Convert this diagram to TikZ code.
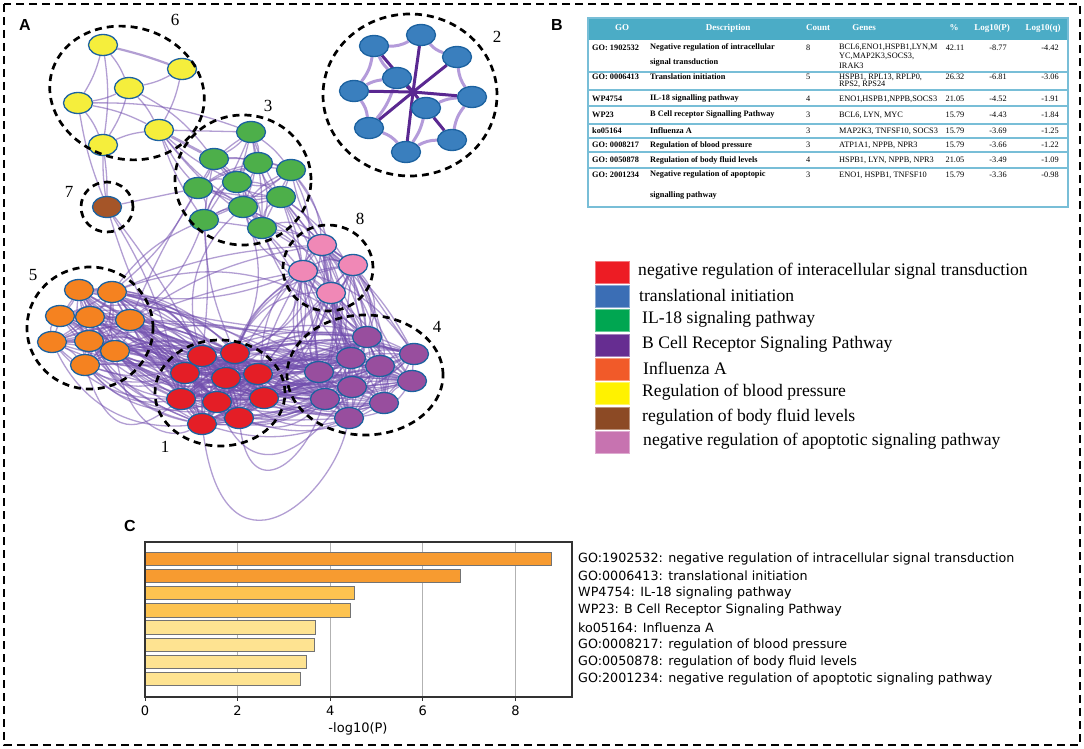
\documentclass[tikz,border=0pt]{standalone}
\usepackage{fontspec}
\setmainfont{Liberation Serif}
\newfontfamily\dejavu{DejaVu Sans}
\newfontfamily\arialf{Liberation Sans}
\usetikzlibrary{shapes.geometric}
\pgfdeclarelayer{bg}
\pgfdeclarelayer{edges}
\pgfsetlayers{bg,edges,main}
\definecolor{nbord}{RGB}{28,98,160}
\definecolor{edgec}{RGB}{115,80,175}
\definecolor{spoke}{RGB}{90,40,145}
\definecolor{ringc}{RGB}{180,155,218}
\definecolor{nyel}{RGB}{245,238,60}
\definecolor{nblue}{RGB}{58,127,190}
\definecolor{ngreen}{RGB}{77,175,74}
\definecolor{npink}{RGB}{240,136,182}
\definecolor{norange}{RGB}{245,130,32}
\definecolor{nred}{RGB}{228,30,38}
\definecolor{npurple}{RGB}{152,78,158}
\definecolor{nbrown}{RGB}{165,85,40}
\definecolor{lred}{RGB}{237,28,36}
\definecolor{lblue}{RGB}{59,110,181}
\definecolor{lgreen}{RGB}{0,166,81}
\definecolor{lpurple}{RGB}{102,45,145}
\definecolor{lorange}{RGB}{241,90,41}
\definecolor{lyellow}{RGB}{255,242,0}
\definecolor{lbrown}{RGB}{140,74,37}
\definecolor{lpink}{RGB}{199,115,176}
\definecolor{thead}{RGB}{75,172,198}
\definecolor{tline}{RGB}{120,190,215}
\definecolor{bar1}{RGB}{247,155,48}
\definecolor{bar2}{RGB}{253,195,80}
\definecolor{bar3}{RGB}{254,227,145}
\newcommand\setfs[2]{\fontsize{#1}{#2}\selectfont}
\newcommand\mylinkin[2]{%
 \foreach \i in {1,...,#2}{\foreach \j in {\i,...,#2}{\ifnum\i<\j
   \pgfmathsetmacro\bb{rand*25}\draw[ed] (#1\i) to[bend left=\bb] (#1\j);\fi}}}
\newcommand\mylinkab[4]{%
 \foreach \i in {#2}{\foreach \j in {#4}{%
   \pgfmathsetmacro\bb{rand*35}\draw[ed] (#1\i) to[bend left=\bb] (#3\j);}}}
\begin{document}
\begin{tikzpicture}[x=1pt,y=-1pt,
  nd/.style={ellipse,draw=nbord,line width=1.3pt,minimum width=29pt,minimum height=21pt,inner sep=0pt},
  yel/.style={nd,fill=nyel}, blu/.style={nd,fill=nblue}, grn/.style={nd,fill=ngreen},
  pnk/.style={nd,fill=npink}, org/.style={nd,fill=norange}, rd/.style={nd,fill=nred},
  prp/.style={nd,fill=npurple}, brn/.style={nd,fill=nbrown},
  clus/.style={ellipse,draw=black,line width=2.7pt,dash pattern=on 7pt off 5pt,inner sep=0pt},
  clab/.style={font=\setfs{17}{17}},
  ed/.style={draw=edgec,line width=1.3pt,opacity=0.55},
  sp/.style={draw=spoke,line width=3pt},
  rg/.style={draw=ringc,line width=3pt},
  panel/.style={font=\arialf\bfseries\setfs{16}{16}},
  th/.style={font=\bfseries\setfs{9}{10},text=white,inner sep=0pt},
  tb/.style={font=\bfseries\setfs{8.3}{9},anchor=west,inner sep=0pt},
  tr/.style={font=\setfs{8.3}{9},anchor=west,inner sep=0pt},
  tc/.style={font=\setfs{8.3}{9},inner sep=0pt},
  sw/.style={minimum width=34pt,minimum height=22pt,inner sep=0pt,line width=1pt},
  lg/.style={font=\setfs{17.6}{17.6},anchor=west,inner sep=0pt},
  bl/.style={font=\dejavu\setfs{12.7}{13},anchor=west,inner sep=0pt},
  tk/.style={font=\dejavu\setfs{13}{13},inner sep=0pt}
]
\useasboundingbox (0,0) rectangle (1084,749);
\begin{pgfonlayer}{bg}
\fill[white] (0,0) rectangle (1084,749);
\end{pgfonlayer}
\draw[line width=2.8pt,dash pattern=on 8pt off 5pt] (4,4) rectangle (1080,745);

\node[panel] (pA) at (25,25) {A};
\node[panel] (pB) at (557,25) {B};
\node[panel] (pC) at (130,526) {C};

% ---------- network nodes ----------
\node[yel] (y1) at (103,45) {};
\node[yel] (y2) at (182,69) {};
\node[yel] (y3) at (129,88) {};
\node[yel] (y4) at (78,103) {};
\node[yel] (y5) at (159,130) {};
\node[yel] (y6) at (103,145) {};
\node[brn] (b1) at (107,207) {};
\node[grn] (g1) at (251,132) {};
\node[grn] (g2) at (214,159) {};
\node[grn] (g3) at (258,163) {};
\node[grn] (g4) at (291,170) {};
\node[grn] (g5) at (237,182) {};
\node[grn] (g6) at (198,188) {};
\node[grn] (g7) at (281,197) {};
\node[grn] (g8) at (243,207) {};
\node[grn] (g9) at (204,220) {};
\node[grn] (g10) at (262,228) {};
\node[blu] (bl1) at (374,46) {};
\node[blu] (bl2) at (421,35) {};
\node[blu] (bl3) at (457,57) {};
\node[blu] (bl4) at (397,78) {};
\node[blu] (bl5) at (354,91) {};
\node[blu] (bl6) at (472,97) {};
\node[blu] (bl7) at (426,108) {};
\node[blu] (bl8) at (369,128) {};
\node[blu] (bl9) at (452,140) {};
\node[blu] (bl10) at (406,152) {};
\coordinate (hub) at (413,92);
\node[pnk] (p1) at (322,245) {};
\node[pnk] (p2) at (353,265) {};
\node[pnk] (p3) at (303,271) {};
\node[pnk] (p4) at (331,293) {};
\node[prp] (u1) at (367,337) {};
\node[prp] (u2) at (351,358) {};
\node[prp] (u3) at (414,354) {};
\node[prp] (u4) at (380,366) {};
\node[prp] (u5) at (319,372) {};
\node[prp] (u6) at (412,381) {};
\node[prp] (u7) at (352,387) {};
\node[prp] (u8) at (325,399) {};
\node[prp] (u9) at (384,403) {};
\node[prp] (u10) at (349,418) {};
\node[org] (o1) at (79,290) {};
\node[org] (o2) at (112,292) {};
\node[org] (o3) at (60,316) {};
\node[org] (o4) at (90,317) {};
\node[org] (o5) at (130,320) {};
\node[org] (o6) at (52,342) {};
\node[org] (o7) at (89,341) {};
\node[org] (o8) at (115,351) {};
\node[org] (o9) at (85,365) {};
\node[rd] (r1) at (202,356) {};
\node[rd] (r2) at (235,353) {};
\node[rd] (r3) at (185,373) {};
\node[rd] (r4) at (226,378) {};
\node[rd] (r5) at (258,374) {};
\node[rd] (r6) at (181,399) {};
\node[rd] (r7) at (217,402) {};
\node[rd] (r8) at (264,398) {};
\node[rd] (r9) at (202,424) {};
\node[rd] (r10) at (239,418) {};

% ---------- edges ----------
\begin{pgfonlayer}{edges}
\pgfmathsetseed{4242}
% yellow
\foreach \a/\b in {y1/y3,y1/y4,y2/y3,y2/y5,y3/y4,y3/y5,y3/y6,y4/y5,y4/y6,y6/y5,y1/y6}
  {\draw[ed] (\a) to[bend left=8] (\b);}
\draw[ed,line width=2.2pt] (y1) to[bend left=3] (y2);
\draw[ed] (y4) to[bend left=10] (g1);
\draw[ed] (y3) to[bend left=12] (g2);
\draw[ed] (y5) -- (g1);
\draw[ed,line width=2.8pt] (y5) -- (g2);
\foreach \t in {6,9,5,8,10} {\draw[ed] (y5) to[bend right=8] (g\t);}
\draw[ed] (y6) to[bend left=4] (b1);
\draw[ed] (y6) to[bend right=4] (b1);
\draw[ed] (y4) to[bend right=6] (b1);
\draw[ed] (b1) -- (g6);
\draw[ed] (b1) to[bend left=5] (r1);
\draw[ed] (b1) to[bend right=8] (r3);
\draw[ed] (b1) to[bend left=10] (r6);
% blue
\foreach \a/\b in {bl1/bl2,bl2/bl3,bl3/bl6,bl6/bl9,bl9/bl10,bl10/bl8,bl8/bl5,bl5/bl1}
  {\draw[rg] (\a) to[bend right=14] (\b);}
\foreach \a/\b in {bl5/bl4,bl4/bl1,bl4/bl8,bl7/bl10,bl7/bl6}
  {\draw[rg] (\a) to[bend left=10] (\b);}
\foreach \t in {1,2,3,5,6,8,10,4,7} {\draw[sp] (hub) -- (bl\t);}
\draw[sp] (bl7) -- (bl9);
% intra clusters
\mylinkin{g}{10}
\mylinkin{p}{4}
\mylinkin{o}{9}
\mylinkin{u}{10}
\mylinkin{r}{10}
\mylinkin{r}{10}
% inter clusters
\mylinkab{r}{1,...,10}{u}{1,...,10}
\mylinkab{r}{1,...,10}{o}{1,...,9}
\mylinkab{o}{1,2,5,8}{u}{1,2,5,8}
\mylinkab{p}{1,...,4}{u}{1,...,10}
\mylinkab{p}{1,...,4}{r}{2,4,5,8}
\mylinkab{g}{4,7,8,10}{p}{1,...,4}
\mylinkab{g}{7,10}{u}{1,2,5}
\mylinkab{g}{8,9}{r}{1,2}
\mylinkab{o}{2,5}{p}{1,3}
\mylinkab{o}{2,5}{g}{9,6}
% loops
\draw[ed] (r9) .. controls (225,590) and (330,500) .. (u10);
\draw[ed] (r10) .. controls (250,500) and (300,470) .. (u8);
\draw[ed] (r7) .. controls (250,480) and (300,460) .. (u7);
\draw[ed] (o9) .. controls (110,440) and (140,430) .. (r6);
\draw[ed] (o8) .. controls (130,430) and (170,440) .. (r9);
\end{pgfonlayer}

% ---------- cluster outlines ----------
\node[clus,minimum width=156pt,minimum height=132pt,rotate=-15] (c6) at (127,93) {};
\node[clus,minimum width=52pt,minimum height=50pt] (c7) at (107,207) {};
\node[clus,minimum width=136pt,minimum height=130pt] (c3) at (243,180) {};
\node[clus,minimum width=174pt,minimum height=162pt] (c2) at (410,95) {};
\node[clus,minimum width=90pt,minimum height=86pt] (c8) at (328,268) {};
\node[clus,minimum width=156pt,minimum height=120pt] (c4) at (365,375) {};
\node[clus,minimum width=126pt,minimum height=122pt] (c5) at (90,328) {};
\node[clus,minimum width=130pt,minimum height=106pt] (c1) at (220,393) {};
\node[clab] (l6) at (175,20) {6};
\node[clab] (l7) at (69,192) {7};
\node[clab] (l3) at (268,106) {3};
\node[clab] (l2) at (497,37) {2};
\node[clab] (l8) at (360,219) {8};
\node[clab] (l4) at (437,327) {4};
\node[clab] (l5) at (33,275) {5};
\node[clab] (l1) at (165,447) {1};

% ---------- table B ----------
\fill[thead] (588,18) rectangle (1068,40);
\foreach \yy in {72,90,106,124,138,152,168} {\draw[tline,line width=1.2pt] (588,\yy) -- (1068,\yy);}
\draw[tline,line width=1.8pt] (588,18) rectangle (1068,207);
\node[th] (h1) at (622,28) {GO};
\node[th] (h2) at (728,28) {Description};
\node[th] (h3) at (818,28) {Count};
\node[th] (h4) at (864,28) {Genes};
\node[th] (h5) at (954,28) {\%};
\node[th] (h6) at (992,28) {Log10(P)};
\node[th] (h7) at (1043,28) {Log10(q)};
% rows
\node[tb] (a1) at (592,48) {GO: 1902532};
\node[tb,align=left,font=\bfseries\setfs{8.3}{15},anchor=north west] (d1) at (650,43) {Negative regulation of intracellular\\signal transduction};
\node[tr] (n1) at (806,48) {8};
\node[tr,align=left,font=\setfs{8.3}{9.5},anchor=north west] (e1) at (839,43.5) {BCL6,ENO1,HSPB1,LYN,M\\YC,MAP2K3,SOCS3,\\IRAK3};
\node[tc] (f1) at (955,48) {42.11};
\node[tc] (q1) at (998,48) {-8.77};
\node[tc] (s1) at (1050,48) {-4.42};
\node[tb] (a2) at (592,77) {GO: 0006413};
\node[tb] (d2) at (650,77) {Translation initiation};
\node[tr] (n2) at (806,77) {5};
\node[tr,align=left,font=\setfs{8.3}{7.5},anchor=north west] (e2) at (839,73.5) {HSPB1, RPL13, RPLP0,\\RPS2, RPS24};
\node[tc] (f2) at (955,77) {26.32};
\node[tc] (q2) at (998,77) {-6.81};
\node[tc] (s2) at (1050,77) {-3.06};
\node[tb] (a3) at (592,99) {WP4754};
\node[tb] (d3) at (650,99) {IL-18 signalling pathway};
\node[tr] (n3) at (806,99) {4};
\node[tr] (e3) at (839,99) {ENO1,HSPB1,NPPB,SOCS3};
\node[tc] (f3) at (955,99) {21.05};
\node[tc] (q3) at (998,99) {-4.52};
\node[tc] (s3) at (1050,99) {-1.91};
\node[tb] (a4) at (592,115) {WP23};
\node[tb] (d4) at (650,115) {B Cell receptor Signalling Pathway};
\node[tr] (n4) at (806,115) {3};
\node[tr] (e4) at (839,115) {BCL6, LYN, MYC};
\node[tc] (f4) at (955,115) {15.79};
\node[tc] (q4) at (998,115) {-4.43};
\node[tc] (s4) at (1050,115) {-1.84};
\node[tb] (a5) at (592,131) {ko05164};
\node[tb] (d5) at (650,131) {Influenza A};
\node[tr] (n5) at (806,131) {3};
\node[tr] (e5) at (839,131) {MAP2K3, TNFSF10, SOCS3};
\node[tc] (f5) at (955,131) {15.79};
\node[tc] (q5) at (998,131) {-3.69};
\node[tc] (s5) at (1050,131) {-1.25};
\node[tb] (a6) at (592,145) {GO: 0008217};
\node[tb] (d6) at (650,145) {Regulation of blood pressure};
\node[tr] (n6) at (806,145) {3};
\node[tr] (e6) at (839,145) {ATP1A1, NPPB, NPR3};
\node[tc] (f6) at (955,145) {15.79};
\node[tc] (q6) at (998,145) {-3.66};
\node[tc] (s6) at (1050,145) {-1.22};
\node[tb] (a7) at (592,160) {GO: 0050878};
\node[tb] (d7) at (650,160) {Regulation of body fluid levels};
\node[tr] (n7) at (806,160) {4};
\node[tr] (e7) at (839,160) {HSPB1, LYN, NPPB, NPR3};
\node[tc] (f7) at (955,160) {21.05};
\node[tc] (q7) at (998,160) {-3.49};
\node[tc] (s7) at (1050,160) {-1.09};
\node[tb] (a8) at (592,175) {GO: 2001234};
\node[tb,align=left,font=\bfseries\setfs{8.3}{21},anchor=north west] (d8) at (650,170.5) {Negative regulation of apoptopic\\signalling pathway};
\node[tr] (n8) at (806,175) {3};
\node[tr] (e8) at (839,175) {ENO1, HSPB1, TNFSF10};
\node[tc] (f8) at (955,175) {15.79};
\node[tc] (q8) at (998,175) {-3.36};
\node[tc] (s8) at (1050,175) {-0.98};

% ---------- legend ----------
\node[sw,fill=lred,draw=lred!60!white] (k1) at (612,272) {};
\node[sw,fill=lblue,draw=lblue!60!white] (k2) at (612,296) {};
\node[sw,fill=lgreen,draw=lgreen!60!white] (k3) at (612,320) {};
\node[sw,fill=lpurple,draw=lpurple!60!white] (k4) at (612,345) {};
\node[sw,fill=lorange,draw=lorange!60!white] (k5) at (612,369) {};
\node[sw,fill=lyellow,draw=lyellow!60!white] (k6) at (612,393) {};
\node[sw,fill=lbrown,draw=lbrown!60!white] (k7) at (612,418) {};
\node[sw,fill=lpink,draw=lpink!60!white] (k8) at (612,442) {};
\node[lg] (m1) at (638,271) {negative regulation of interacellular signal transduction};
\node[lg] (m2) at (639,295) {translational initiation};
\node[lg] (m3) at (642,319) {IL-18 signaling pathway};
\node[lg] (m4) at (642,344) {B Cell Receptor Signaling Pathway};
\node[lg] (m5) at (643,368) {Influenza A};
\node[lg] (m6) at (642,392) {Regulation of blood pressure};
\node[lg] (m7) at (642,417) {regulation of body fluid levels};
\node[lg] (m8) at (643,441) {negative regulation of apoptotic signaling pathway};

% ---------- bar chart C ----------
\foreach \v in {2,4,6,8} {\draw[gray!60,line width=1.3pt] ({145+46.3*\v},542) -- ({145+46.3*\v},697);}
\foreach \v/\c [count=\k] in {8.77/bar1,6.81/bar1,4.52/bar2,4.43/bar2,3.69/bar3,3.66/bar3,3.49/bar3,3.36/bar3}
  {\filldraw[fill=\c,draw=gray!90!black,line width=1pt] (145,{552+17.2*(\k-1)}) rectangle ({145+46.3*\v},{565.5+17.2*(\k-1)});}
\draw[black!80,line width=1.2pt] (145,542) rectangle (572,697);
\foreach \v in {0,2,4,6,8} {\draw[black!80,line width=1pt] ({145+46.3*\v},697) -- ({145+46.3*\v},701);
  \node[tk] (tick\v) at ({145+46.3*\v},711) {\v};}
\node[tk] (xlab) at (358,729) {-log10(P)};
\node[bl] (w1) at (578,559) {GO:1902532: negative regulation of intracellular signal transduction};
\node[bl] (w2) at (578,576) {GO:0006413: translational initiation};
\node[bl] (w3) at (578,593) {WP4754: IL-18 signaling pathway};
\node[bl] (w4) at (578,610) {WP23: B Cell Receptor Signaling Pathway};
\node[bl] (w5) at (578,628) {ko05164: Influenza A};
\node[bl] (w6) at (578,645) {GO:0008217: regulation of blood pressure};
\node[bl] (w7) at (578,662) {GO:0050878: regulation of body fluid levels};
\node[bl] (w8) at (578,679) {GO:2001234: negative regulation of apoptotic signaling pathway};
\end{tikzpicture}
\end{document}
